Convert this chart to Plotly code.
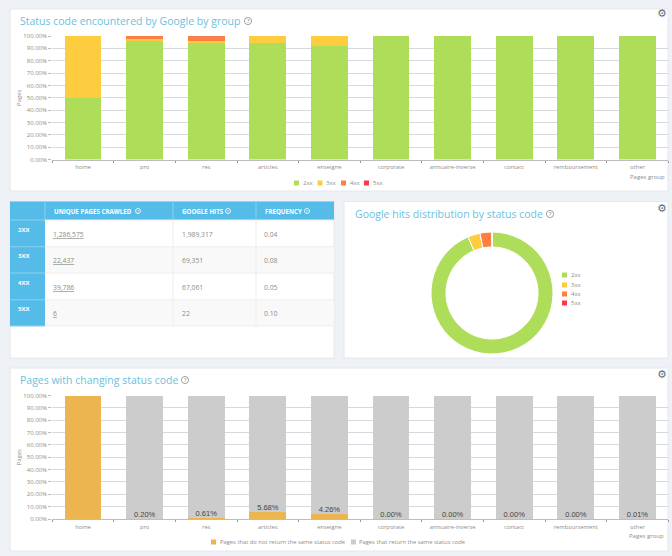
import plotly.graph_objects as go

W, H = 672, 556

groups = ["home", "pro", "res", "articles", "enseigne", "corporate",
          "annuaire-inverse", "contact", "remboursement", "other"]
status_codes = ["2xx", "3xx", "4xx", "5xx"]
share_2xx = [50.0, 96.2, 94.6, 94.3, 91.6, 100, 100, 100, 100, 100]
share_3xx = [50.0, 1.1, 1.6, 5.7, 8.4, 0, 0, 0, 0, 0]
share_4xx = [0, 2.7, 3.8, 0, 0, 0, 0, 0, 0, 0]
share_5xx = [0, 0, 0, 0, 0, 0, 0, 0, 0, 0]
google_hits = [1989317, 69351, 67061, 22]
unique_pages = ["1,286,575", "22,437", "39,786", "6"]
hits_labels = ["1,989,317", "69,351", "67,061", "22"]
frequency = ["0.04", "0.08", "0.05", "0.10"]
table_headers = ["UNIQUE PAGES CRAWLED", "GOOGLE HITS", "FREQUENCY"]
changing = [100, 0.20, 0.61, 5.68, 4.26, 0.00, 0.00, 0.00, 0.00, 0.01]
changing_labels = ["", "0.20%", "0.61%", "5.68%", "4.26%", "0.00%", "0.00%", "0.00%", "0.00%", "0.01%"]
same = [0, 99.80, 99.39, 94.32, 95.74, 100, 100, 100, 100, 99.99]
change_names = ["Pages that do not return the same status code", "Pages that return the same status code"]

COL_STATUS = ["#aedd5a", "#fdcc3f", "#fd7f45", "#f9394b"]
COL_CHANGE = ["#ecb54f", "#cccccc"]
BG = "#eef2f6"
TITLE = "#6cbfdc"
TXT = "#8c8c8c"
BLUE = "#55bbe8"
FONT = "Open Sans"


def px(x):
    return x / W


def py(y):
    return 1 - y / H


shapes, ann = [], []


def rect(x0, y0, x1, y1, fill, line=None, width=1):
    shapes.append(dict(type="rect", xref="paper", yref="paper", layer="below",
                       x0=px(x0), x1=px(x1), y0=py(y0), y1=py(y1), fillcolor=fill,
                       line=dict(color=line, width=width) if line else dict(width=0)))


def text(x, y, s, size=8, color=TXT, anchor="left", family=FONT):
    ann.append(dict(xref="paper", yref="paper", x=px(x), y=py(y), text=s, showarrow=False,
                    xanchor=anchor, yanchor="middle",
                    font=dict(size=size, color=color, family=family),
                    borderpad=0, borderwidth=0))


def info(x, y, r, color, size, tcolor):
    shapes.append(dict(type="circle", xref="paper", yref="paper",
                       x0=px(x - r), x1=px(x + r), y0=py(y + r), y1=py(y - r),
                       line=dict(color=color, width=0.8)))
    ann.append(dict(xref="paper", yref="paper", x=px(x), y=py(y), text="?", showarrow=False,
                    xanchor="center", yanchor="middle", borderpad=0, borderwidth=0,
                    captureevents=False, font=dict(size=size, color=tcolor, family=FONT)))


def title(x, y, s, icon_x):
    text(x, y, s, size=10.5, color=TITLE)
    info(icon_x, y, 3.6, "#8a8a8a", 5.5, "#777777")


def gear(y):
    text(662, y, "\u2699", size=11, color="#6b6b6b", anchor="center", family="DejaVu Sans")


def swatch(x, y, color, name, gap=8.5, size=6):
    rect(x, y - 2.5, x + 5, y + 2.5, color)
    text(x + gap, y, name, size=size)


rect(10, 9, 668, 191, "white", "#e4e8eb")
rect(10, 201.5, 334, 358, "white", "#e4e8eb")
rect(344, 201.5, 668, 358, "white", "#e4e8eb")
rect(10, 368, 668, 551, "white", "#e4e8eb")

title(20, 21, "Status code encountered by Google by group", 248)
title(355, 214, "Google hits distribution by status code", 550)
title(20, 380, "Pages with changing status code", 185)
gear(14)
gear(208)
gear(374)

for x0, name, col in zip([294, 317.5, 341, 364], status_codes, COL_STATUS):
    swatch(x0, 183, col, name)
for yy, name, col in zip([275, 285, 294, 303], status_codes, COL_STATUS):
    swatch(562, yy, col, name)
swatch(211, 542, COL_CHANGE[0], change_names[0], size=5.8)
swatch(351, 542, COL_CHANGE[1], change_names[1], gap=7.5, size=5.8)

text(665, 177, "Pages group", size=6, anchor="right")
text(664, 536, "Pages group", size=6, anchor="right")

# table drawn from the lists above
col_edges = [10, 45, 173, 256, 334]
row_edges = [220, 246.7, 273, 299.7, 326]
rect(10, 201.5, 334, 220, BLUE)
rect(10, 220, 45, 326, BLUE)
for i in (1, 3):
    rect(45, row_edges[i], 334, row_edges[i + 1], "#f9f9f9")
for e in row_edges:
    rect(45, e - 0.5, 334, e + 0.5, "#eeeeee")
    rect(10, e - 0.5, 45, e + 0.5, "#8fd0ee")
for e in col_edges[1:4]:
    rect(e - 0.5, 201.5, e + 0.5, 220, "#8fd0ee")
for e in col_edges[2:4]:
    rect(e - 0.5, 220, e + 0.5, 326, "#eeeeee")
for x0, icon, h in zip([54, 182, 265], [138, 228, 307], table_headers):
    text(x0, 211, "<b>%s</b>" % h, size=6.2, color="white")
    info(icon, 211, 2.5, "white", 4, "white")
for i, (code, u, g, f) in enumerate(zip(status_codes, unique_pages, hits_labels, frequency)):
    y_top = row_edges[i]
    text(18, y_top + 9.7, "<b>%s</b>" % code.upper(), size=6, color="white")
    text(53, y_top + 14, "<u>%s</u>" % u, size=6.8)
    text(182, y_top + 14, g, size=6.8)
    text(264, y_top + 14, f, size=6.8)

fig = go.Figure()

for name, vals, col in zip(status_codes, [share_2xx, share_3xx, share_4xx, share_5xx], COL_STATUS):
    fig.add_trace(go.Bar(x=groups, y=vals, name=name, marker=dict(color=col, line=dict(width=0)),
                         showlegend=False, xaxis="x", yaxis="y"))

fig.add_trace(go.Pie(labels=status_codes, values=google_hits, hole=0.755, sort=False,
                     direction="clockwise", rotation=0, textinfo="none", showlegend=False,
                     marker=dict(colors=COL_STATUS, line=dict(color="white", width=1)),
                     domain=dict(x=[px(431), px(553)], y=[py(354), py(232)])))

fig.add_trace(go.Bar(x=groups, y=changing, name=change_names[0], showlegend=False,
                     marker=dict(color=COL_CHANGE[0], line=dict(width=0)), xaxis="x2", yaxis="y2"))
fig.add_trace(go.Bar(x=groups, y=same, name=change_names[1], showlegend=False,
                     marker=dict(color=COL_CHANGE[1], line=dict(width=0)), xaxis="x2", yaxis="y2"))
fig.add_trace(go.Scatter(x=groups, y=changing, mode="text", text=changing_labels,
                         textposition="top center", showlegend=False, cliponaxis=False,
                         textfont=dict(size=7.5, color="#444444", family="Liberation Sans"),
                         xaxis="x2", yaxis="y2"))


def xaxis(anchor):
    return dict(domain=[px(52.2), px(668.2)], anchor=anchor, type="category",
                range=[-0.5, 9.5], tickson="boundaries", ticks="outside", ticklen=2,
                tickcolor="#999999", showline=True, linecolor="#bdbdbd", linewidth=1,
                showgrid=False, tickangle=0, automargin=False, ticklabelstandoff=2,
                tickfont=dict(size=5.8, color=TXT, family=FONT), fixedrange=True)


def yaxis(y0, y1, anchor):
    return dict(domain=[py(y0), py(y1)], anchor=anchor, range=[0, 100], dtick=10,
                tickformat=".2f", ticksuffix="%", ticks="outside", ticklen=3, tickcolor="#bbbbbb",
                gridcolor="#d6d9de", gridwidth=1, zeroline=False, showline=False, automargin=False,
                tickfont=dict(size=6, color=TXT, family=FONT), fixedrange=True,
                title=dict(text="Pages", standoff=1, font=dict(size=6, color=TXT, family=FONT)))


fig.update_layout(
    width=W, height=H, margin=dict(l=0, r=0, t=0, b=0, pad=0), autosize=False,
    paper_bgcolor=BG, plot_bgcolor="rgba(0,0,0,0)",
    barmode="stack", bargap=0.4, showlegend=False,
    font=dict(family=FONT, color=TXT),
    xaxis=xaxis("y"), yaxis=yaxis(159.5, 36, "x"),
    xaxis2=xaxis("y2"), yaxis2=yaxis(519, 395.5, "x2"),
    shapes=shapes, annotations=ann,
)

fig.write_html("out.html", config=dict(displayModeBar=False),
               post_script="document.body.style.margin='0';document.documentElement.style.overflow='hidden';")
